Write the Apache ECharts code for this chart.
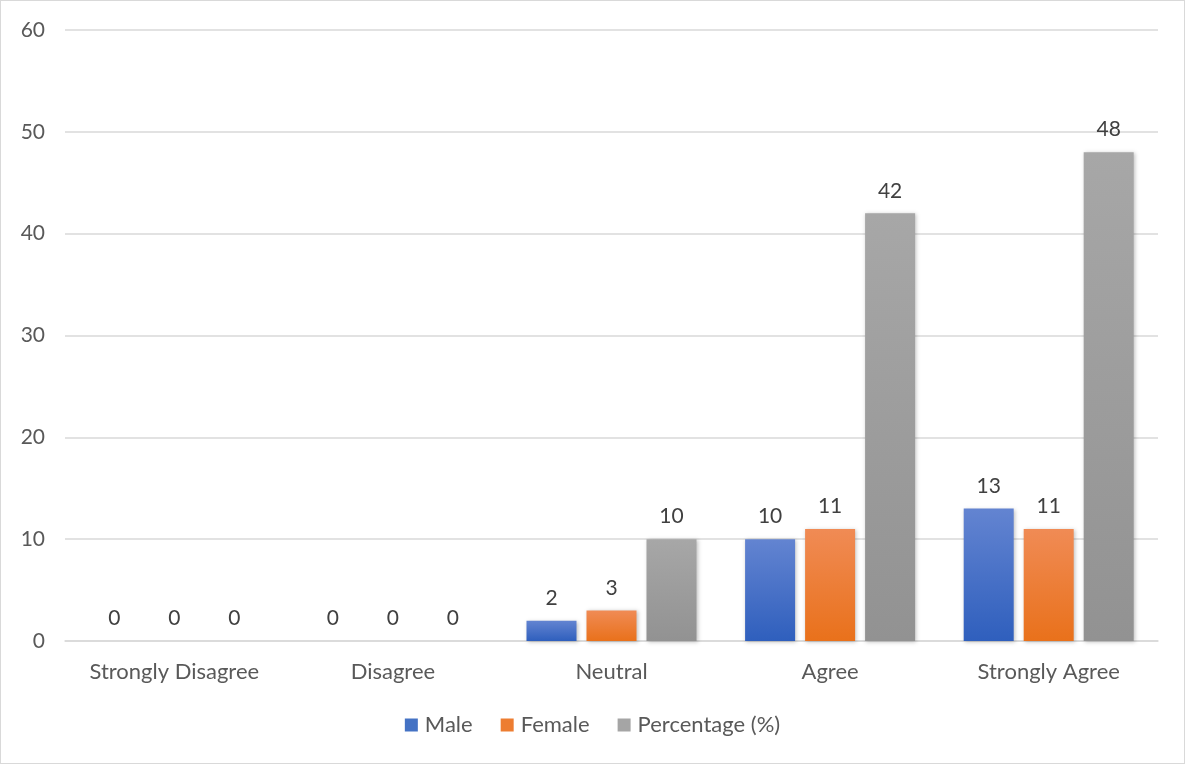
<!DOCTYPE html>
<html>
<head>
<meta charset="utf-8">
<script src="https://cdn.jsdelivr.net/npm/echarts@6/dist/echarts.min.js"></script>
<style>
  html, body { margin: 0; padding: 0; background: #fff; }
  #chart { width: 1185px; height: 764px; box-sizing: border-box; border: 1px solid #d9d9d9; }
</style>
</head>
<body>
<div id="chart"></div>
<script>
const categories = ['Strongly Disagree', 'Disagree', 'Neutral', 'Agree', 'Strongly Agree'];
const maleValues = [0, 0, 2, 10, 13];
const femaleValues = [0, 0, 3, 11, 11];
const percentValues = [0, 0, 10, 42, 48];
const yTicks = { min: 0, max: 60, interval: 10 };

const FONT = 'Lato, "Open Sans", sans-serif';
const FS = 22;

function grad(top, bottom) {
  return new echarts.graphic.LinearGradient(0, 0, 0, 1, [
    { offset: 0, color: top },
    { offset: 1, color: bottom }
  ]);
}

function barSeries(name, data, top, bottom) {
  return {
    name: name,
    type: 'bar',
    data: data,
    barWidth: 50,
    barGap: '20%',
    itemStyle: {
      color: grad(top, bottom),
      shadowColor: 'rgba(0,0,0,0.25)',
      shadowBlur: 4,
      shadowOffsetX: 1,
      shadowOffsetY: 1
    },
    label: {
      show: true,
      position: 'top',
      distance: 12,
      color: '#404040',
      fontSize: FS - 1,
      fontFamily: FONT
    }
  };
}

const chart = echarts.init(document.getElementById('chart'), null, { renderer: 'canvas' });
chart.setOption({
  animation: false,
  textStyle: { fontFamily: FONT },
  grid: { left: 64, right: 26, top: 29, bottom: 122, containLabel: false },
  legend: {
    bottom: 22,
    left: 'center',
    itemWidth: 13,
    itemHeight: 13,
    itemGap: 28,
    icon: 'rect',
    textStyle: { color: '#595959', fontSize: FS, fontFamily: FONT, padding: [0, 0, 0, 2] },
    data: [
      { name: 'Male', itemStyle: { color: '#4472c4' } },
      { name: 'Female', itemStyle: { color: '#ed7d31' } },
      { name: 'Percentage (%)', itemStyle: { color: '#a5a5a5' } }
    ]
  },
  xAxis: {
    type: 'category',
    data: categories,
    axisTick: { show: false },
    axisLine: { lineStyle: { color: '#d9d9d9', width: 1.5 } },
    axisLabel: { color: '#595959', fontSize: FS, fontFamily: FONT, margin: 20, interval: 0 }
  },
  yAxis: {
    type: 'value',
    min: yTicks.min,
    max: yTicks.max,
    interval: yTicks.interval,
    axisLine: { show: false },
    axisTick: { show: false },
    splitLine: { lineStyle: { color: '#d9d9d9', width: 1.5 } },
    axisLabel: { color: '#595959', fontSize: FS - 1, fontFamily: FONT, margin: 20 }
  },
  series: [
    barSeries('Male', maleValues, '#6384d1', '#2f5fbd'),
    barSeries('Female', femaleValues, '#f08b55', '#e9711b'),
    barSeries('Percentage (%)', percentValues, '#a7a7a7', '#929292')
  ]
});
</script>
</body>
</html>
